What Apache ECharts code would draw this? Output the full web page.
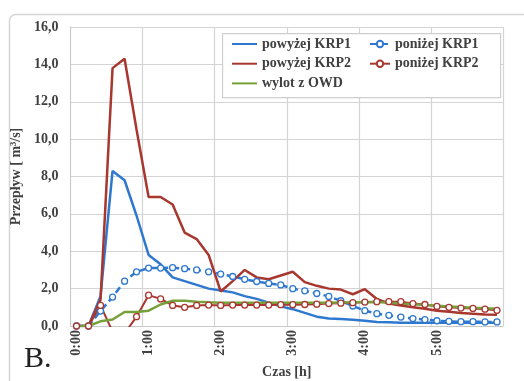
<!DOCTYPE html>
<html>
<head>
<meta charset="utf-8">
<script src="https://cdn.jsdelivr.net/npm/echarts@6/dist/echarts.min.js"></script>
<style>
html,body{margin:0;padding:0;background:#fff;}
#c{width:524px;height:381px;}
</style>
</head>
<body>
<div id="c"></div>
<script>
var categories = ["0:00","0:10","0:20","0:30","0:40","0:50","1:00","1:10","1:20","1:30","1:40","1:50",
  "2:00","2:10","2:20","2:30","2:40","2:50","3:00","3:10","3:20","3:30","3:40","3:50",
  "4:00","4:10","4:20","4:30","4:40","4:50","5:00","5:10","5:20","5:30","5:40","5:50"];
var yTicks = [0,2,4,6,8,10,12,14,16];

var powyzejKRP1 = [0,0,1.6,8.3,7.8,5.9,3.8,3.3,2.6,2.4,2.2,2.0,1.9,1.8,1.6,1.45,1.25,1.05,0.9,0.7,0.5,0.4,0.38,0.33,0.28,0.22,0.2,0.18,0.18,0.18,0.18,0.18,0.18,0.18,0.17,0.17];
var ponizejKRP1 = [0,0,0.8,1.55,2.4,2.9,3.1,3.1,3.12,3.07,3.0,2.9,2.78,2.65,2.5,2.38,2.28,2.2,2.0,1.88,1.74,1.58,1.35,1.07,0.82,0.66,0.57,0.48,0.4,0.34,0.28,0.25,0.23,0.23,0.22,0.22];
var powyzejKRP2 = [0,0,1.4,13.8,14.3,10.5,6.9,6.9,6.5,5.0,4.65,3.8,1.85,2.4,3.0,2.6,2.5,2.7,2.9,2.35,2.15,2.0,1.95,1.7,1.97,1.45,1.2,1.1,1.0,0.92,0.82,0.76,0.7,0.66,0.62,0.6];
var ponizejKRP2 = [0,0,1.1,-0.3,-0.4,0.5,1.65,1.45,1.1,1.0,1.1,1.12,1.1,1.12,1.12,1.12,1.12,1.14,1.14,1.15,1.17,1.2,1.22,1.25,1.28,1.3,1.3,1.3,1.2,1.15,1.05,1.0,0.96,0.94,0.9,0.84];
var wylotOWD = [0,0,0.25,0.35,0.75,0.75,0.82,1.15,1.35,1.35,1.3,1.27,1.25,1.25,1.25,1.25,1.25,1.25,1.25,1.25,1.25,1.25,1.26,1.27,1.27,1.28,1.25,1.2,1.17,1.13,1.08,1.05,1.02,0.98,0.95,0.92];

var names = ["powyżej KRP1","poniżej KRP1","powyżej KRP2","poniżej KRP2","wylot z OWD"];
var colors = ["#2f78cf","#2f78cf","#a8372f","#a8372f","#76a03a"];
var serif = "'Liberation Serif','DejaVu Serif',serif";

var chart = echarts.init(document.getElementById('c'), null, {renderer:'canvas'});

function solid(name, data, color){
  return {name:name, type:'line', data:data, symbol:'none', showSymbol:false,
    lineStyle:{color:color, width:2.5}, itemStyle:{color:color}, z:3};
}
function marked(name, data, color, dashed){
  return {name:name, type:'line', data:data, symbol:'circle', symbolSize:6, showSymbol:true,
    lineStyle:{color:color, width:dashed?2.5:2, type:dashed?[7,4]:'solid'},
    itemStyle:{color:'#ffffff', borderColor:color, borderWidth:1.3}, z:3};
}

var legendText = {fontFamily:serif, fontSize:14, fontWeight:'bold', color:'#404040', lineHeight:14};
var hidden = {opacity:0};

chart.setOption({
  animation:false,
  backgroundColor:'#ffffff',
  grid:{left:70.5, right:21, top:27, bottom:55, containLabel:false, outerBoundsMode:'none'},
  xAxis:{
    type:'category', data:categories, boundaryGap:true,
    name:'Czas [h]', nameLocation:'middle', nameGap:39,
    nameTextStyle:{fontFamily:serif, fontSize:14, fontWeight:'bold', color:'#404040'},
    axisLine:{show:true, lineStyle:{color:'#c8c8c8', width:1}},
    axisTick:{show:false},
    axisLabel:{interval:5, rotate:90, fontFamily:serif, fontSize:14, fontWeight:'bold', color:'#404040', margin:4},
    splitLine:{show:true, interval:5, lineStyle:{color:'#d4d4d4', width:1.2}}
  },
  yAxis:{
    type:'value', min:yTicks[0], max:yTicks[yTicks.length-1], interval:yTicks[1]-yTicks[0],
    name:'Przepływ [ m³/s]', nameLocation:'middle', nameGap:41, nameRotate:90,
    nameTextStyle:{fontFamily:serif, fontSize:14, fontWeight:'bold', color:'#404040'},
    axisLine:{show:true, lineStyle:{color:'#c8c8c8'}},
    axisTick:{show:false},
    axisLabel:{fontFamily:serif, fontSize:14, fontWeight:'bold', color:'#404040', margin:12,
      formatter:function(v){return v.toFixed(1).replace('.',',');}},
    splitLine:{show:true, lineStyle:{color:'#d4d4d4', width:1.2}}
  },
  legend:[
    {orient:'vertical', left:231, top:37, itemWidth:25, itemHeight:8, itemGap:5.7,
     data:[{name:names[0], itemStyle:hidden},{name:names[2], itemStyle:hidden},{name:names[4], itemStyle:hidden}],
     textStyle:legendText, z:10, padding:0},
    {orient:'vertical', left:369, top:37, itemWidth:20, itemHeight:8, itemGap:5.7,
     data:[names[1],names[3]], textStyle:legendText, z:10, padding:0}
  ],
  graphic:[
    {type:'rect', left:7, top:12, shape:{width:530, height:380, r:6}, silent:true, z:-10,
     style:{fill:'none', stroke:'#d6d6d6', lineWidth:1.5}},
    {type:'rect', left:222, top:33, shape:{width:278, height:64}, silent:true, z:5,
     style:{fill:'#ffffff', stroke:'#cfcfcf', lineWidth:1.2}},
    {type:'text', left:24, top:344, silent:true, z:5,
     style:{text:'B.', font:"30px 'Liberation Serif', serif", fill:'#222222'}}
  ],
  series:[
    solid(names[0], powyzejKRP1, colors[0]),
    marked(names[1], ponizejKRP1, colors[1], true),
    solid(names[2], powyzejKRP2, colors[2]),
    marked(names[3], ponizejKRP2, colors[3], false),
    solid(names[4], wylotOWD, colors[4])
  ]
});
</script>
</body>
</html>
